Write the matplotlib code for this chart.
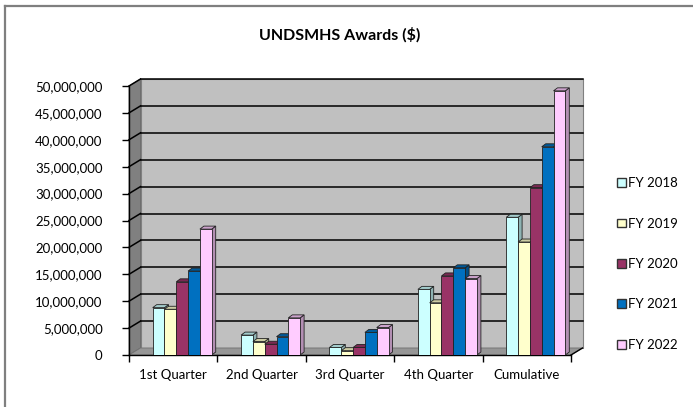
import matplotlib
matplotlib.use("Agg")
import matplotlib.pyplot as plt
from matplotlib.patches import Polygon, Patch
from matplotlib.colors import to_rgb

categories = ["1st Quarter", "2nd Quarter", "3rd Quarter", "4th Quarter", "Cumulative"]
series = ["FY 2018", "FY 2019", "FY 2020", "FY 2021", "FY 2022"]
fy2018 = [8.8e6, 3.7e6, 1.4e6, 12.2e6, 25.6e6]
fy2019 = [8.5e6, 2.5e6, 0.8e6, 9.7e6, 21.0e6]
fy2020 = [13.6e6, 2.0e6, 1.4e6, 14.7e6, 31.1e6]
fy2021 = [15.6e6, 3.4e6, 4.2e6, 16.2e6, 38.7e6]
fy2022 = [23.4e6, 6.9e6, 5.1e6, 14.2e6, 49.1e6]
values = [fy2018, fy2019, fy2020, fy2021, fy2022]
colors = ["#CCFFFF", "#FFFFCC", "#993366", "#0070C0", "#FFCCFF"]

plt.rcParams['font.family'] = ['Lato', 'DejaVu Sans']

W, H = 693, 407
fig = plt.figure(figsize=(W / 100, H / 100), dpi=100)

# front plane of the plot: x 129..571 px, y 355 (0) .. 86 (50M)
x0, x1, yb, yt = 129, 571, 355, 86
ax = fig.add_axes([x0 / W, 1 - yb / H, (x1 - x0) / W, (yb - yt) / H])
ymax = 50e6
ax.set_xlim(-0.5, 4.5)
ax.set_ylim(0, ymax)

px_x = 5.0 / (x1 - x0)
px_y = ymax / (yb - yt)

# wall depth offset
ox, oy = 11.5 * px_x, 7 * px_y
# bar depth
bx, by = 4 * px_x, 3 * px_y

def poly(pts, fc, ec="none", lw=0.0, z=1):
    p = Polygon(pts, closed=True, facecolor=fc, edgecolor=ec, linewidth=lw,
                zorder=z, clip_on=False)
    ax.add_patch(p)

L, R = -0.5, 4.5
# back wall
poly([(L + ox, oy), (R + ox, oy), (R + ox, ymax + oy), (L + ox, ymax + oy)],
     "#C0C0C0", "#808080", 0.8, 0)
# side wall
poly([(L, 0), (L + ox, oy), (L + ox, ymax + oy), (L, ymax)], "#808080", "#606060", 0.6, 0.5)
# floor
poly([(L, 0), (R, 0), (R + ox, oy), (L + ox, oy)], "#969696", "#707070", 0.6, 0.5)

# gridlines on walls
for k in range(1, 11):
    y = k * 5e6
    ax.plot([L + ox, R + ox], [y + oy, y + oy], color="black", lw=1.1, zorder=0.6, clip_on=False)
    ax.plot([L, L + ox], [y, y + oy], color="black", lw=1.1, zorder=0.6, clip_on=False)

# axes lines
ax.plot([L, L], [0, ymax], color="black", lw=1.0, zorder=0.7, clip_on=False)
ax.plot([L, R], [0, 0], color="black", lw=1.0, zorder=0.7, clip_on=False)
ax.plot([R, R + ox], [0, oy], color="black", lw=1.0, zorder=0.7, clip_on=False)

# bars
bw = 0.1335
shift = 9 * px_x
def shade(c, f):
    r, g, b = to_rgb(c)
    return (r * f, g * f, b * f)

for i, (vals, col) in enumerate(zip(values, colors)):
    xs = [c + (i - 2) * bw + shift for c in range(len(categories))]
    ax.bar(xs, vals, width=bw, color=col, edgecolor="#222222", linewidth=0.6, zorder=2 + i * 0.1)
    for x, v in zip(xs, vals):
        xl, xr = x - bw / 2, x + bw / 2
        poly([(xr, 0), (xr + bx, by), (xr + bx, v + by), (xr, v)],
             shade(col, 0.7), "#222222", 0.6, 1.99 + i * 0.1)
        poly([(xl, v), (xr, v), (xr + bx, v + by), (xl + bx, v + by)],
             shade(col, 0.8), "#222222", 0.6, 1.99 + i * 0.1)

for s in ax.spines.values():
    s.set_visible(False)
ax.set_facecolor("none")

yticks = [k * 5e6 for k in range(11)]
ax.set_yticks(yticks)
ax.set_yticklabels([f"{int(t):,}" for t in yticks], fontsize=9.5)
ax.set_xticks([c + 0.5 for c in range(-1, 5)], minor=True)
ax.set_xticks(range(len(categories)))
ax.set_xticklabels(categories, fontsize=9.5)
ax.tick_params(axis="x", which="major", length=0, pad=10)
ax.tick_params(axis="x", which="minor", length=5, width=1.0, direction="out")
ax.tick_params(axis="y", length=5, width=1.0, direction="out", pad=14)

fig.text(340 / W, 1 - 35 / H, "UNDSMHS Awards ($)", ha="center", va="center",
         fontsize=11.5, fontweight="bold")

handles = [Patch(facecolor=c, edgecolor="#333333", linewidth=1.0) for c in colors]
fig.legend(handles, series, loc="center left", bbox_to_anchor=(612 / W, 1 - 264 / H),
           frameon=False, fontsize=9.5, handlelength=0.65, handleheight=0.65,
           handletextpad=0.2, labelspacing=2.15, borderaxespad=0)

# chart border (left and top visible)
fig.add_artist(plt.Line2D([5 / W, 5 / W], [0, 1 - 6 / H], color="#7f7f7f", lw=1.6,
                          transform=fig.transFigure))
fig.add_artist(plt.Line2D([5 / W, 1], [1 - 6 / H, 1 - 6 / H], color="#7f7f7f", lw=1.6,
                          transform=fig.transFigure))

fig.savefig("out.png", dpi=100)
